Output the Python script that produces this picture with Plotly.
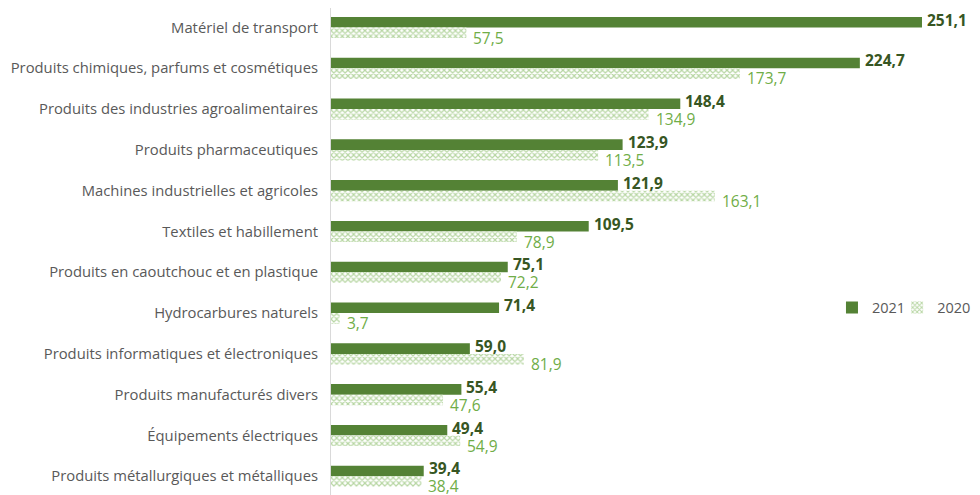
import plotly.graph_objects as go

categories = [
    "Matériel de transport",
    "Produits chimiques, parfums et cosmétiques",
    "Produits des industries agroalimentaires",
    "Produits pharmaceutiques",
    "Machines industrielles et agricoles",
    "Textiles et habillement",
    "Produits en caoutchouc et en plastique",
    "Hydrocarbures naturels",
    "Produits informatiques et électroniques",
    "Produits manufacturés divers",
    "Équipements électriques",
    "Produits métallurgiques et métalliques",
]
values_2021 = [251.1, 224.7, 148.4, 123.9, 121.9, 109.5, 75.1, 71.4, 59.0, 55.4, 49.4, 39.4]
values_2020 = [57.5, 173.7, 134.9, 113.5, 163.1, 78.9, 72.2, 3.7, 81.9, 47.6, 54.9, 38.4]

dark = "#548235"
light = "#70AD47"
FONT = "Open Sans"


def fr(v):
    return f"{v:.1f}".replace(".", ",")


fig = go.Figure()
fig.add_trace(go.Bar(
    name="2021", y=categories, x=values_2021, orientation="h",
    marker=dict(color=dark, line=dict(width=0)), legend="legend",
))
fig.add_trace(go.Bar(
    name="2020", y=categories, x=values_2020, orientation="h",
    marker=dict(color="white", line=dict(width=0),
                pattern=dict(shape="x", fgcolor=light, bgcolor="white", size=4, solidity=0.5)),
    legend="legend2",
))

for cat, v in zip(categories, values_2021):
    fig.add_annotation(x=v, y=cat, text=f"<b>{fr(v)}</b>", showarrow=False,
                       xanchor="left", yanchor="middle", xshift=3, yshift=8,
                       font=dict(family=FONT, size=15.5, color="#375623"))
for cat, v in zip(categories, values_2020):
    fig.add_annotation(x=v, y=cat, text=fr(v), showarrow=False,
                       xanchor="left", yanchor="middle", xshift=5, yshift=-10,
                       font=dict(family=FONT, size=15.5, color=light))

legend_style = dict(orientation="h", y=0.385, yanchor="middle", xanchor="left",
                    font=dict(size=14.5, color="#595959"), bgcolor="rgba(0,0,0,0)",
                    itemwidth=30)

fig.update_layout(
    width=972, height=487,
    margin=dict(l=323, r=10, t=0, b=0, autoexpand=False),
    barmode="group", bargap=0.48, bargroupgap=0,
    plot_bgcolor="white", paper_bgcolor="white",
    font=dict(family=FONT, size=14.8, color="#595959"),
    showlegend=True,
    legend=dict(x=0.784, **legend_style),
    legend2=dict(x=0.886, **legend_style),
)
fig.update_xaxes(range=[0, 271.5], visible=False, showgrid=False, zeroline=False, automargin=False)
fig.update_yaxes(range=[11.458, -0.478], showline=True, linecolor="#D9D9D9", linewidth=1,
                 ticks="", showgrid=False, ticklabelstandoff=9, automargin=False,
                 tickfont=dict(size=14.8, color="#595959"))

fig.write_html("out.html")
